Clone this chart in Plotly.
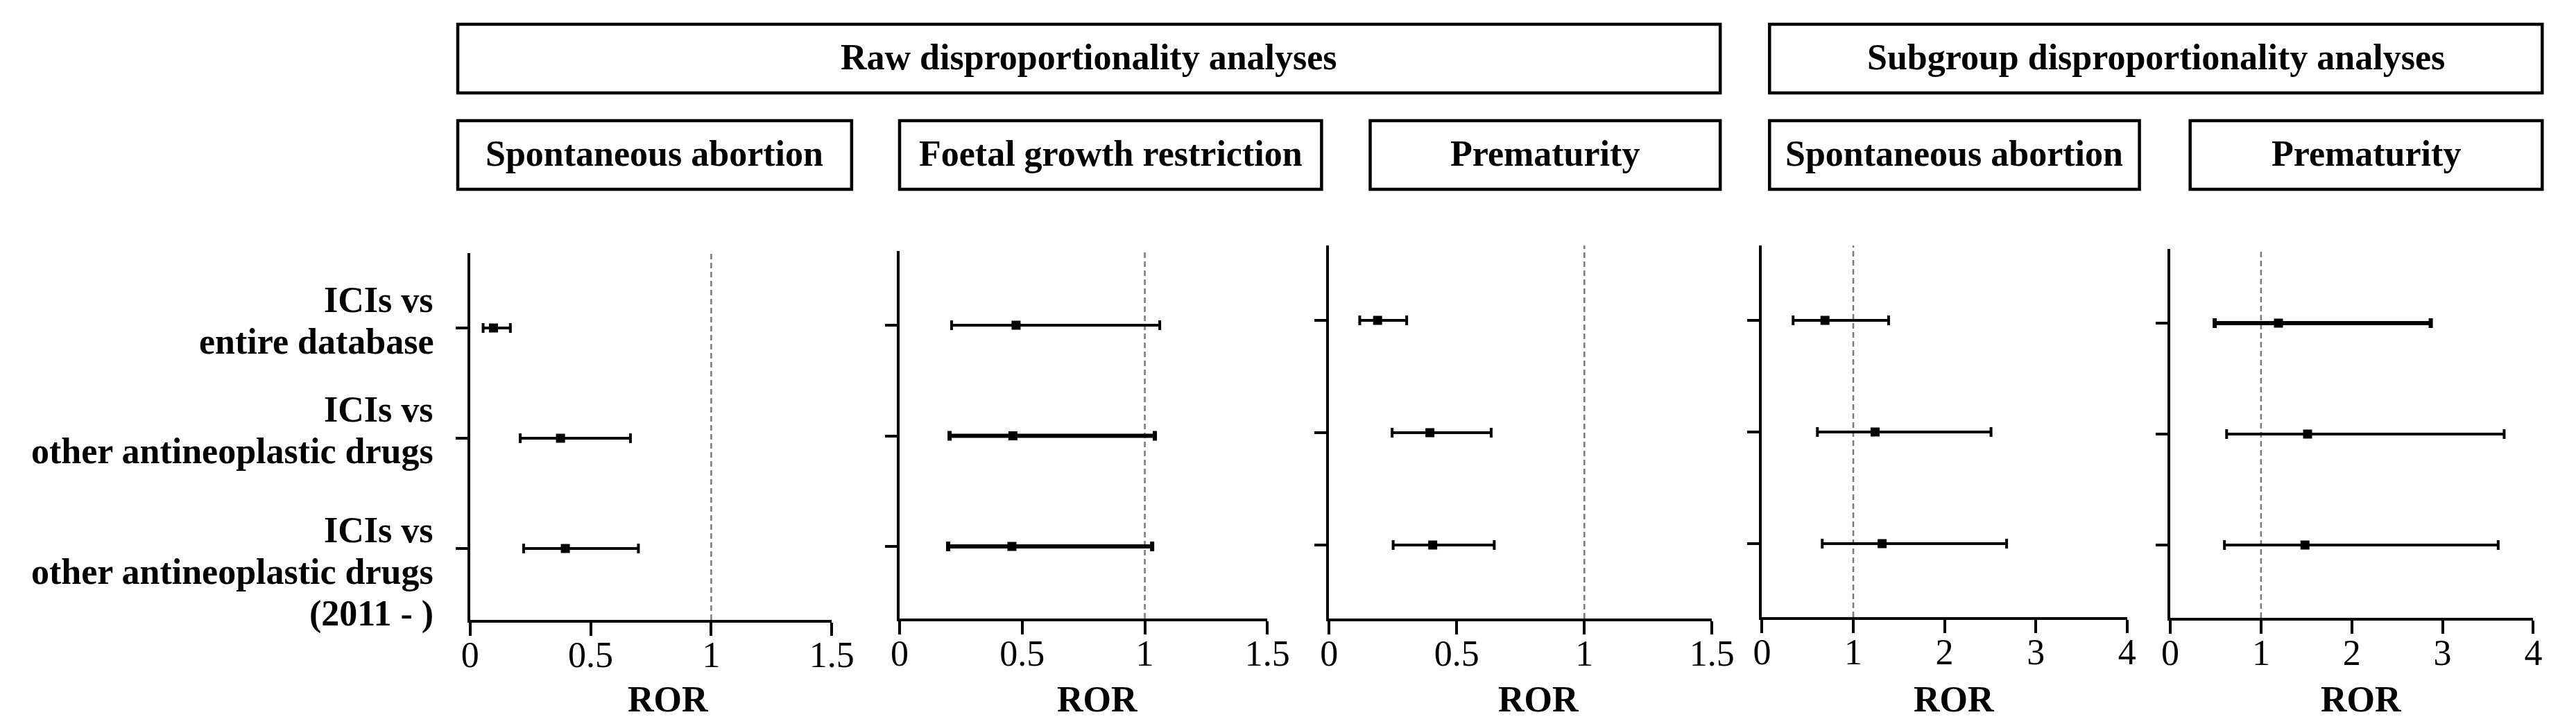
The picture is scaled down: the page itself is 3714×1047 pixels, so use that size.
import plotly.graph_objects as go

# ---------------- data ----------------
categories = [
    ["ICIs vs", "entire database"],
    ["ICIs vs", "other antineoplastic drugs"],
    ["ICIs vs", "other antineoplastic drugs", "(2011 - )"],
]
row_pos = [3, 2, 1]

panel_titles = ["Spontaneous abortion", "Foetal growth restriction", "Prematurity",
                "Spontaneous abortion", "Prematurity"]
group_titles = ["Raw disproportionality analyses", "Subgroup disproportionality analyses"]

ror_sa_raw = [0.097, 0.375, 0.395]
lo_sa_raw = [0.054, 0.208, 0.222]
hi_sa_raw = [0.167, 0.665, 0.698]

ror_fgr_raw = [0.475, 0.462, 0.458]
lo_fgr_raw = [0.212, 0.204, 0.198]
hi_fgr_raw = [1.061, 1.041, 1.030]

ror_pre_raw = [0.190, 0.395, 0.406]
lo_pre_raw = [0.120, 0.247, 0.251]
hi_pre_raw = [0.304, 0.635, 0.647]

ror_sa_sub = [0.690, 1.239, 1.316]
lo_sa_sub = [0.341, 0.607, 0.660]
hi_sa_sub = [1.387, 2.509, 2.680]

ror_pre_sub = [1.192, 1.513, 1.484]
lo_pre_sub = [0.490, 0.621, 0.597]
hi_pre_sub = [2.870, 3.679, 3.613]

ticks_small = [0, 0.5, 1, 1.5]
ticks_small_text = ["0", "0.5", "1", "1.5"]
ticks_big = [0, 1, 2, 3, 4]
ticks_big_text = ["0", "1", "2", "3", "4"]
x_title = "ROR"

# ---------------- layout (pixels) ----------------
W, H = 3714, 1047
FONT = "Liberation Serif"
FS = 52


def px(x):
    return x / W


def py(y):
    return 1 - y / H


panels = [
    dict(ror=ror_sa_raw, lo=lo_sa_raw, hi=hi_sa_raw, x0=665, x1=1193, ytop=357, ybot=886,
         r1=465, r3=783, xmax=1.5, tv=ticks_small, tt=ticks_small_text, thick=[4, 4, 4], rorx=954),
    dict(ror=ror_fgr_raw, lo=lo_fgr_raw, hi=hi_fgr_raw, x0=1292, x1=1829, ytop=354, ybot=884,
         r1=461, r3=780, xmax=1.5, tv=ticks_small, tt=ticks_small_text, thick=[4, 6, 6], rorx=1581),
    dict(ror=ror_pre_raw, lo=lo_pre_raw, hi=hi_pre_raw, x0=1919, x1=2478, ytop=346, ybot=884,
         r1=454, r3=778, xmax=1.5, tv=ticks_small, tt=ticks_small_text, thick=[4, 4, 4], rorx=2225),
    dict(ror=ror_sa_sub, lo=lo_sa_sub, hi=hi_sa_sub, x0=2551, x1=3084, ytop=346, ybot=882,
         r1=454, r3=776, xmax=4, tv=ticks_big, tt=ticks_big_text, thick=[4, 4, 4], rorx=2832),
    dict(ror=ror_pre_sub, lo=lo_pre_sub, hi=hi_pre_sub, x0=3147, x1=3677, ytop=351, ybot=883,
         r1=458, r3=778, xmax=4, tv=ticks_big, tt=ticks_big_text, thick=[6, 4, 4], rorx=3426),
]

group_boxes = [(647, 2490), (2562, 3690)]
group_y = (27, 126)
panel_boxes = [(647, 1222), (1292, 1908), (1979, 2490), (2562, 3102), (3176, 3690)]
panel_y = (166, 265)

fig = go.Figure()
shapes = []
annotations = []
layout_axes = {}

for i, p in enumerate(panels):
    n = i + 1
    xa = "x" if n == 1 else f"x{n}"
    ya = "y" if n == 1 else f"y{n}"
    unit = (p["r3"] - p["r1"]) / 2
    ylow = 1 - (p["ybot"] - p["r3"]) / unit
    yhigh = 3 + (p["r1"] - p["ytop"]) / unit

    for j in range(3):
        r = p["ror"][j]
        fig.add_trace(go.Scatter(
            x=[r], y=[row_pos[j]], xaxis=xa, yaxis=ya, mode="markers",
            marker=dict(symbol="square", size=13, color="black"),
            error_x=dict(type="data", symmetric=False,
                         array=[p["hi"][j] - r], arrayminus=[r - p["lo"][j]],
                         thickness=p["thick"][j], width=7, color="black"),
            showlegend=False, hoverinfo="x",
        ))

    layout_axes["xaxis" if n == 1 else f"xaxis{n}"] = dict(
        domain=[px(p["x0"]), px(p["x1"])], range=[0, p["xmax"]], anchor=ya,
        showline=True, linewidth=4, linecolor="black", mirror=False,
        ticks="outside", ticklen=19, tickwidth=4, tickcolor="black",
        tickvals=p["tv"], ticktext=p["tt"], ticklabelstandoff=-17,
        tickfont=dict(family=FONT, size=FS, color="black"),
        showgrid=False, zeroline=False, fixedrange=True,
    )
    layout_axes["yaxis" if n == 1 else f"yaxis{n}"] = dict(
        domain=[py(p["ybot"]), py(p["ytop"])], range=[ylow, yhigh], anchor=xa,
        showline=True, linewidth=4, linecolor="black",
        ticks="outside", ticklen=17, tickwidth=4, tickcolor="black",
        tickvals=row_pos, showticklabels=False,
        showgrid=False, zeroline=False, fixedrange=True,
    )

    # reference line at ROR = 1
    shapes.append(dict(type="line", xref=xa, yref=f"{ya} domain", x0=1, x1=1, y0=0, y1=1,
                       line=dict(color="#7a7a7a", width=2.5, dash="8px,5px"), layer="below"))

    annotations.append(dict(text=f"<b>{x_title}</b>", xref="paper", yref="paper",
                            x=px(p["rorx"]), y=py(1000), showarrow=False,
                            xanchor="center", yanchor="middle",
                            font=dict(family=FONT, size=FS, color="black")))

# category labels (left of first panel)
label_lines_y = [[424, 484], [582, 642], [756, 816, 877]]
for lines, ys in zip(categories, label_lines_y):
    for t, yy in zip(lines, ys):
        annotations.append(dict(text=f"<b>{t}</b>", xref="paper", yref="paper",
                                x=px(614), y=py(yy), showarrow=False,
                                xanchor="right", yanchor="middle",
                                font=dict(family=FONT, size=FS, color="black")))

# header boxes
for (bx0, bx1), t in zip(group_boxes, group_titles):
    shapes.append(dict(type="rect", xref="paper", yref="paper",
                       x0=px(bx0), x1=px(bx1), y0=py(group_y[1]), y1=py(group_y[0]),
                       line=dict(color="black", width=4.5), fillcolor="white"))
    annotations.append(dict(text=f"<b>{t}</b>", xref="paper", yref="paper",
                            x=px((bx0 + bx1) / 2), y=py(sum(group_y) / 2 - 2), showarrow=False,
                            xanchor="center", yanchor="middle",
                            font=dict(family=FONT, size=FS, color="black")))

for (bx0, bx1), t in zip(panel_boxes, panel_titles):
    shapes.append(dict(type="rect", xref="paper", yref="paper",
                       x0=px(bx0), x1=px(bx1), y0=py(panel_y[1]), y1=py(panel_y[0]),
                       line=dict(color="black", width=4.5), fillcolor="white"))
    annotations.append(dict(text=f"<b>{t}</b>", xref="paper", yref="paper",
                            x=px((bx0 + bx1) / 2), y=py(sum(panel_y) / 2 - 2), showarrow=False,
                            xanchor="center", yanchor="middle",
                            font=dict(family=FONT, size=FS, color="black")))

fig.update_layout(
    width=W, height=H, margin=dict(l=0, r=0, t=0, b=0),
    paper_bgcolor="white", plot_bgcolor="white",
    font=dict(family=FONT, size=FS, color="black"),
    shapes=shapes, annotations=annotations, showlegend=False,
    **layout_axes,
)

fig.write_html("out.html")
